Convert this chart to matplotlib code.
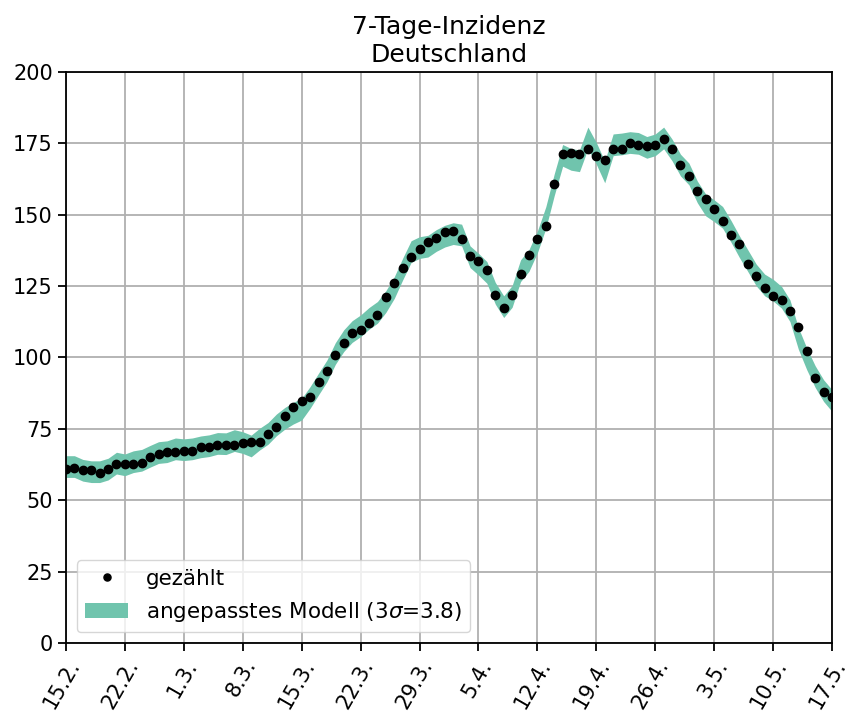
import matplotlib
matplotlib.use("Agg")
import matplotlib.pyplot as plt
import numpy as np
import pandas as pd

start_date = "2021-02-15"
counted = [60.8, 61.2, 60.6, 60.6, 59.7, 60.8, 62.7, 62.6, 62.7, 63.2,
           65.1, 66.2, 66.8, 67.0, 67.4, 67.4, 68.5, 68.8, 69.3, 69.2,
           69.3, 69.9, 70.3, 70.3, 73.2, 75.8, 79.5, 82.8, 84.6, 86.3,
           91.5, 95.3, 100.9, 105.0, 108.7, 109.8, 112.2, 114.9, 121.1, 126.0,
           131.2, 135.3, 137.9, 140.3, 142.0, 143.8, 144.4, 141.5, 135.5, 133.9,
           130.6, 121.9, 117.5, 121.8, 129.1, 135.8, 141.5, 146.2, 160.7, 171.2,
           171.5, 171.3, 172.9, 170.6, 169.2, 172.9, 172.9, 175.2, 174.6, 174.2,
           174.6, 176.5, 173.1, 167.4, 163.6, 158.3, 155.4, 151.9, 147.9, 142.9,
           139.6, 132.6, 128.7, 124.4, 121.7, 120.0, 116.3, 110.7, 102.3, 92.8,
           87.8, 86.1]
model = [61.8, 61.8, 60.5, 60.0, 60.0, 60.9, 63.0, 62.4, 63.5, 64.0,
         65.4, 66.7, 67.0, 68.0, 67.7, 68.0, 68.7, 69.1, 69.9, 69.8,
         70.9, 70.2, 69.0, 71.4, 73.4, 76.4, 78.7, 80.5, 81.9, 86.0,
         90.7, 95.3, 101.4, 105.9, 109.1, 111.1, 113.7, 115.8, 119.6, 124.5,
         131.0, 137.1, 138.5, 139.0, 141.0, 142.5, 143.4, 142.9, 135.3, 132.7,
         129.8, 122.5, 117.8, 121.4, 130.4, 134.0, 140.5, 149.0, 160.5, 170.8,
         169.4, 168.9, 176.9, 171.5, 165.0, 174.5, 174.8, 175.3, 175.0, 173.6,
         174.5, 176.9, 172.7, 167.4, 164.3, 158.0, 153.4, 151.4, 149.1, 144.2,
         138.8, 133.9, 128.9, 125.4, 123.6, 121.1, 116.4, 106.7, 99.5, 93.3,
         88.4, 84.9]
three_sigma = 3.8
tick_labels = ["15.2.", "22.2.", "1.3.", "8.3.", "15.3.", "22.3.", "29.3.",
               "5.4.", "12.4.", "19.4.", "26.4.", "3.5.", "10.5.", "17.5."]
yticks = [0, 25, 50, 75, 100, 125, 150, 175, 200]

dates = pd.date_range(start_date, periods=len(counted), freq="D")
model_arr = np.array(model)

fig = plt.figure(figsize=(8.49, 7.13), dpi=100)
ax = fig.add_axes([0.0777, 0.0982, 0.9023, 0.8008])

band_color = "#70c4ad"
ax.fill_between(dates, model_arr - three_sigma, model_arr + three_sigma,
                color=band_color, linewidth=0, zorder=2,
                label="angepasstes Modell (3$\\sigma$=3.8)")
ax.plot(dates, counted, "o", color="black", markersize=6, zorder=3,
        label="gezählt")

ax.set_xlim(dates[0], dates[-1])
ax.set_ylim(0, 200)
ax.set_xticks(dates[::7])
ax.set_xticklabels(tick_labels, rotation=60, ha="right", rotation_mode="anchor",
                   fontsize=15)
ax.set_yticks(yticks)
ax.tick_params(axis="y", labelsize=15)
ax.tick_params(axis="both", length=6, width=1.3)
ax.grid(True, color="#b0b0b0", linewidth=1.3, zorder=0)
ax.set_axisbelow(True)
for s in ax.spines.values():
    s.set_linewidth(1.3)

ax.set_title("7-Tage-Inzidenz\nDeutschland", fontsize=18, linespacing=1.2,
             pad=7)

handles, labels = ax.get_legend_handles_labels()
ax.legend(handles[::-1], labels[::-1], loc="lower left", fontsize=15.5,
          handlelength=2.0, markerscale=0.85)

fig.savefig("out.png", dpi=100)
